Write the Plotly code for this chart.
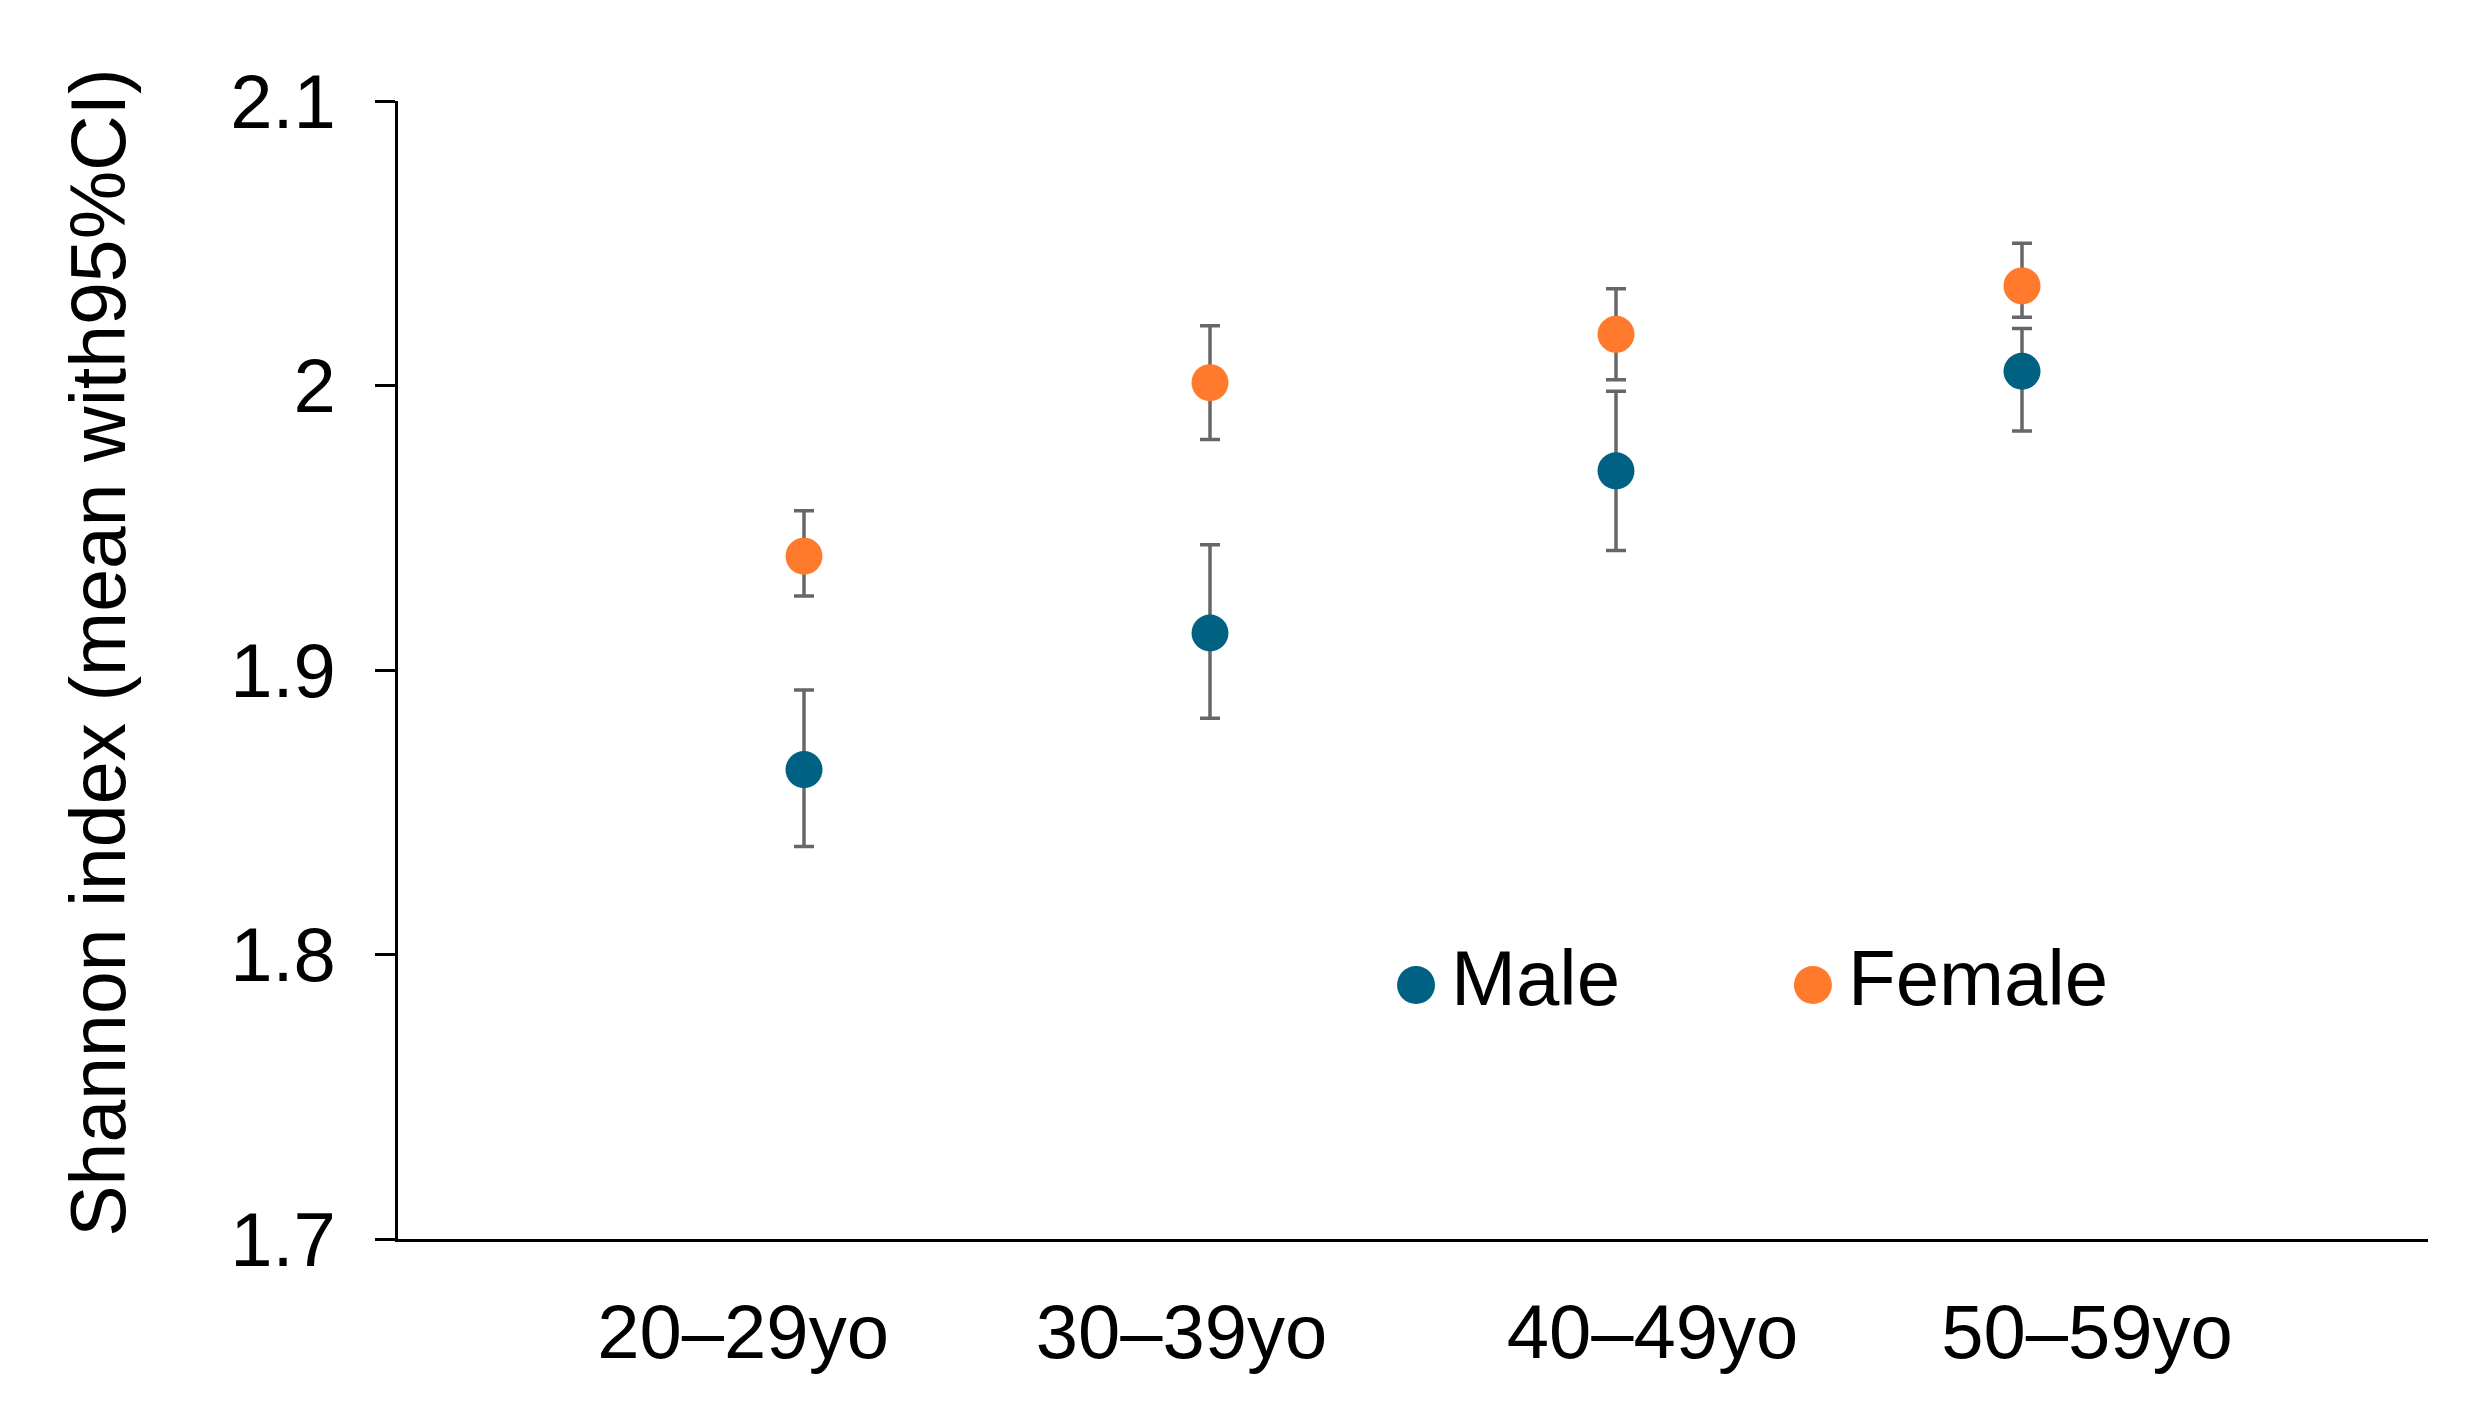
import plotly.graph_objects as go

# ---- data ----
age_groups = ["20–29yo", "30–39yo", "40–49yo", "50–59yo"]
male_mean = [1.865, 1.913, 1.970, 2.005]
male_upper = [1.893, 1.944, 1.998, 2.020]
male_lower = [1.838, 1.883, 1.942, 1.984]
female_mean = [1.940, 2.001, 2.018, 2.035]
female_upper = [1.956, 2.021, 2.034, 2.050]
female_lower = [1.926, 1.981, 2.002, 2.024]
y_ticks = [1.7, 1.8, 1.9, 2.0, 2.1]
y_tick_text = ["1.7", "1.8", "1.9", "2", "2.1"]

# ---- style ----
FONT = "Liberation Sans, Arial, Helvetica, sans-serif"
BLUE = "#006182"
ORANGE = "#FF7A2C"
ERR = "#676767"
label_offsets = [-0.15, -0.07, 0.09, 0.16]

xpos = list(range(1, len(age_groups) + 1))


def err(mean, up, lo):
    return dict(
        type="data",
        symmetric=False,
        array=[u - m for u, m in zip(up, mean)],
        arrayminus=[m - l for m, l in zip(mean, lo)],
        color=ERR,
        thickness=3.5,
        width=10,
    )


fig = go.Figure()
fig.add_trace(go.Scatter(
    x=xpos, y=male_mean, mode="markers", name="Male",
    marker=dict(size=37, color=BLUE),
    error_y=err(male_mean, male_upper, male_lower),
    showlegend=False,
))
fig.add_trace(go.Scatter(
    x=xpos, y=female_mean, mode="markers", name="Female",
    marker=dict(size=37, color=ORANGE),
    error_y=err(female_mean, female_upper, female_lower),
    showlegend=False,
))

# legend drawn manually (large markers)
legend_items = [("Male", BLUE, 0.5015, 0.5175), ("Female", ORANGE, 0.697, 0.7133)]
shapes = []
annotations = []
for name, col, dot_x, txt_x in legend_items:
    shapes.append(dict(
        type="circle", xref="paper", yref="paper",
        xsizemode="pixel", ysizemode="pixel",
        xanchor=dot_x, yanchor=0.2232,
        x0=-19, x1=19, y0=-19, y1=19,
        fillcolor=col, line=dict(width=0),
    ))
    annotations.append(dict(
        text=name, xref="paper", yref="paper", x=txt_x, y=0.2293,
        xanchor="left", yanchor="middle", showarrow=False,
        font=dict(family=FONT, size=78, color="black"),
    ))

annotations.append(dict(
    text="Shannon index (mean with95%CI)", xref="paper", yref="paper",
    x=-0.1478, y=0.516, textangle=-90, xanchor="center", yanchor="middle",
    showarrow=False, font=dict(family=FONT, size=77, color="black"),
))

fig.update_layout(
    width=2466, height=1425,
    margin=dict(l=398, r=38, t=101, b=186),
    paper_bgcolor="white", plot_bgcolor="white",
    showlegend=False,
    shapes=shapes, annotations=annotations,
    font=dict(family=FONT, color="black"),
)
fig.update_xaxes(
    range=[0, 5], showgrid=False, zeroline=False,
    showline=True, linecolor="black", linewidth=3,
    tickmode="array",
    tickvals=[p + o for p, o in zip(xpos, label_offsets)],
    ticktext=age_groups, ticks="",
    tickfont=dict(family=FONT, size=76, color="black"),
    ticklabelstandoff=25,
)
fig.update_yaxes(
    range=[1.7, 2.1], showgrid=False, zeroline=False,
    showline=True, linecolor="black", linewidth=3,
    tickmode="array", tickvals=y_ticks, ticktext=y_tick_text,
    ticks="outside", ticklen=20, tickwidth=3, tickcolor="black",
    tickfont=dict(family=FONT, size=76, color="black"),
    ticklabelstandoff=24,
)

fig.write_html(
    "out.html",
    config={"displayModeBar": False},
    post_script="document.body.style.margin='0';document.body.style.overflow='hidden';",
)
